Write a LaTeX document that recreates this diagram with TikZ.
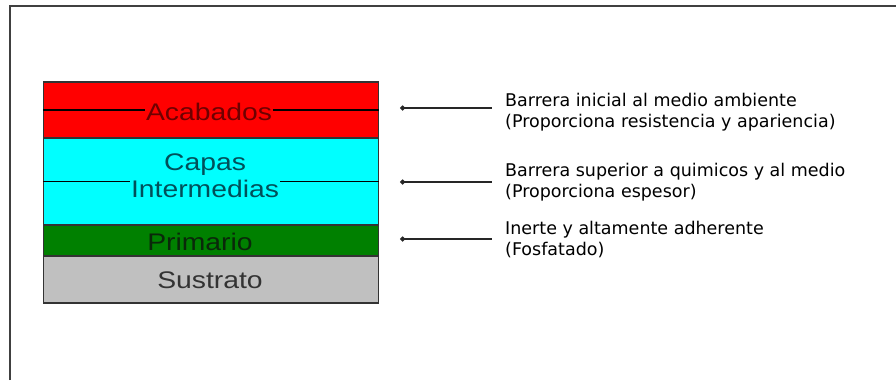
\documentclass[tikz,border=0pt]{standalone}
\usepackage{fontspec}
\setmainfont{Liberation Sans}
\newfontfamily\notefont{DejaVu Sans}
\usetikzlibrary{arrows.meta,positioning}

\definecolor{acabado}{RGB}{255,0,0}
\definecolor{intermedia}{RGB}{0,255,255}
\definecolor{primario}{RGB}{0,128,0}
\definecolor{sustrato}{RGB}{192,192,192}

\tikzset{
  capa/.style={draw=black!80, line width=1.3pt, minimum width=335pt, inner sep=0pt},
  capatexto/.style={inner sep=1.5pt, font=\fontsize{24}{27}\selectfont, align=center},
  nota/.style={anchor=west, align=left, inner sep=0pt, font=\notefont\fontsize{17.5}{21}\selectfont},
  flecha/.style={{Circle[length=5pt]}-, line width=1.2pt, black!85}
}

\begin{document}
\begin{tikzpicture}[x=1pt,y=-1pt]
      \useasboundingbox (0,0) rectangle (896,380);
      % marco
      \draw[line width=1.5pt, black!75] (10,380) -- (10,6) -- (896,6);
      % capas
      \node[capa, fill=acabado, minimum height=56pt] (acab) at (211,110) {};
      \node[capa, fill=intermedia, minimum height=87pt] (inter) at (211,181.5) {};
      \node[capa, fill=primario, minimum height=31pt] (prim) at (211,240.5) {};
      \node[capa, fill=sustrato, minimum height=47pt] (sust) at (211,279.5) {};
      \draw[line width=1.3pt] (acab.west) -- (acab.east);
      \draw[line width=1.3pt] (inter.west) -- (inter.east);
      \node[capatexto, fill=acabado, text={rgb,255:red,110;green,0;blue,0}] (tacab) at (209,112) {\scalebox{1.18}[1]{Acabados}};
      \node[capatexto, fill=intermedia, text={rgb,255:red,0;green,80;blue,90}] (tinter) at (205,176) {\scalebox{1.18}[1]{Capas}\\\scalebox{1.18}[1]{Intermedias}};
      \node[capatexto, text={rgb,255:red,10;green,40;blue,10}] (tprim) at (200,242) {\scalebox{1.18}[1]{Primario}};
      \node[capatexto, text=black!80] (tsust) at (210,280) {\scalebox{1.18}[1]{Sustrato}};
      % notas
      \node[nota] (n1) at (505,112) {Barrera inicial al medio ambiente\\(Proporciona resistencia y apariencia)};
      \node[nota] (n2) at (505,182) {Barrera superior a quimicos y al medio\\(Proporciona espesor)};
      \node[nota] (n3) at (505,240) {Inerte y altamente adherente\\(Fosfatado)};
      \coordinate (p1) at (400,108);
      \coordinate (p2) at (400,182);
      \coordinate (p3) at (400,239);
      \draw[flecha] (p1) -- ([xshift=-13pt]n1.west |- p1);
      \draw[flecha] (p2) -- ([xshift=-13pt]n2.west |- p2);
      \draw[flecha] (p3) -- ([xshift=-13pt]n3.west |- p3);
\end{tikzpicture}
\end{document}
